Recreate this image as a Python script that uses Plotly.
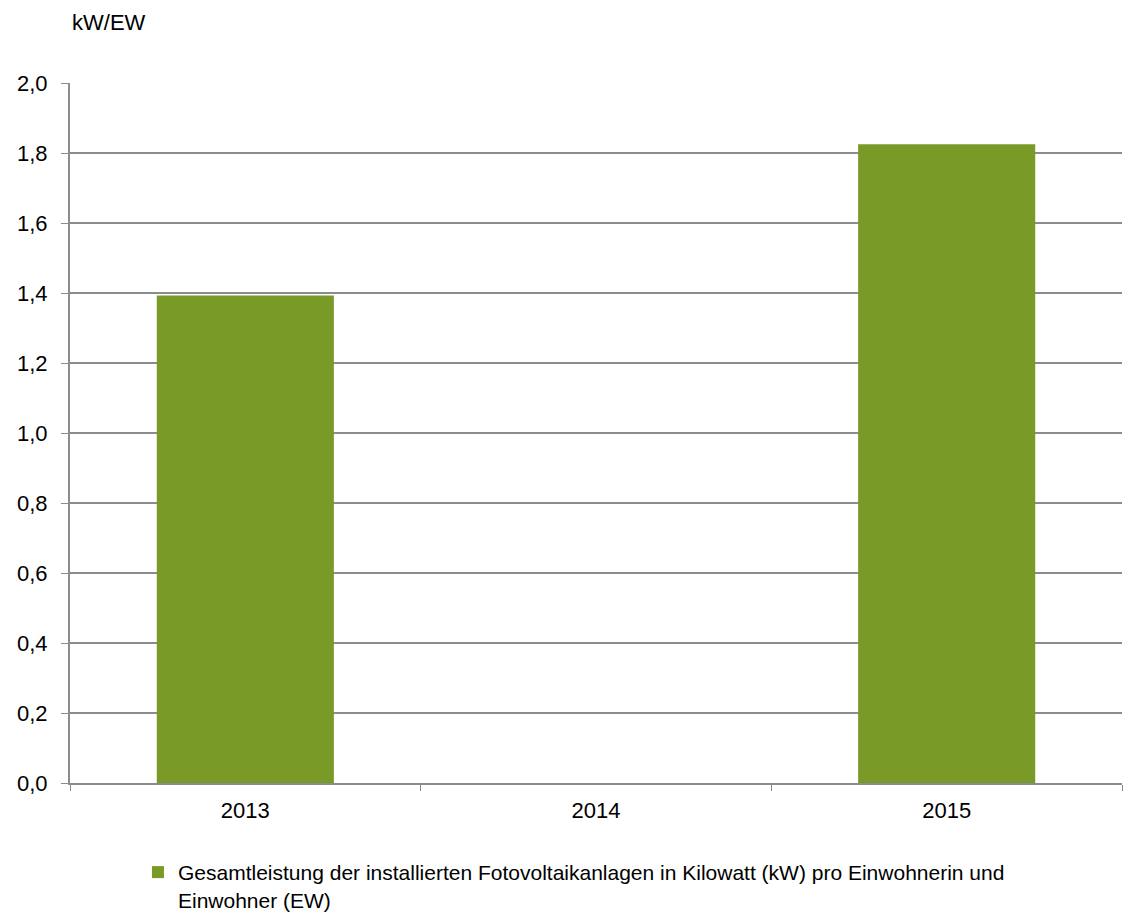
import plotly.graph_objects as go

years = ["2013", "2014", "2015"]
values = [1.393, None, 1.825]
series_name = "Gesamtleistung der installierten Fotovoltaikanlagen in Kilowatt (kW) pro Einwohnerin und<br>Einwohner (EW)"
unit_label = "kW/EW"

fig = go.Figure()
fig.add_trace(go.Bar(
    x=years, y=values, name=series_name,
    marker=dict(color="#7a9a27", line=dict(width=0)),
    showlegend=True,
))

font = dict(family="Liberation Sans, Arial, sans-serif", size=22, color="#000000")

fig.update_layout(
    width=1126, height=917,
    margin=dict(l=70, r=4, t=83, b=134, autoexpand=False),
    paper_bgcolor="white", plot_bgcolor="white",
    separators=",.",
    font=font,
    bargap=0.495,
    xaxis=dict(
        type="category",
        showline=True, linecolor="#8c8c8c", linewidth=2,
        ticks="outside", ticklen=6, tickcolor="#8c8c8c", tickwidth=1,
        tickson="boundaries", ticklabelstandoff=7,
        showgrid=False, tickfont=font,
    ),
    yaxis=dict(
        range=[0, 2.0], dtick=0.2, tickformat=".1f",
        showline=True, linecolor="#8c8c8c", linewidth=2,
        ticks="outside", ticklen=7, tickcolor="#8c8c8c", tickwidth=1,
        ticklabelstandoff=9,
        showgrid=True, gridcolor="#8c8c8c", gridwidth=2,
        zeroline=False, tickfont=font,
    ),
    legend=dict(
        x=0.0646, y=-0.0985, xanchor="left", yanchor="top",
        orientation="h", font=dict(family=font["family"], size=21, color="#000000"),
        valign="top",
        bgcolor="rgba(0,0,0,0)",
        itemwidth=30, tracegroupgap=0,
    ),
    annotations=[dict(
        text=unit_label, xref="paper", yref="paper",
        x=0.0, y=1.0, xanchor="left", yanchor="middle",
        yshift=61, showarrow=False, font=font,
    )],
)

fig.write_html("out.html")
